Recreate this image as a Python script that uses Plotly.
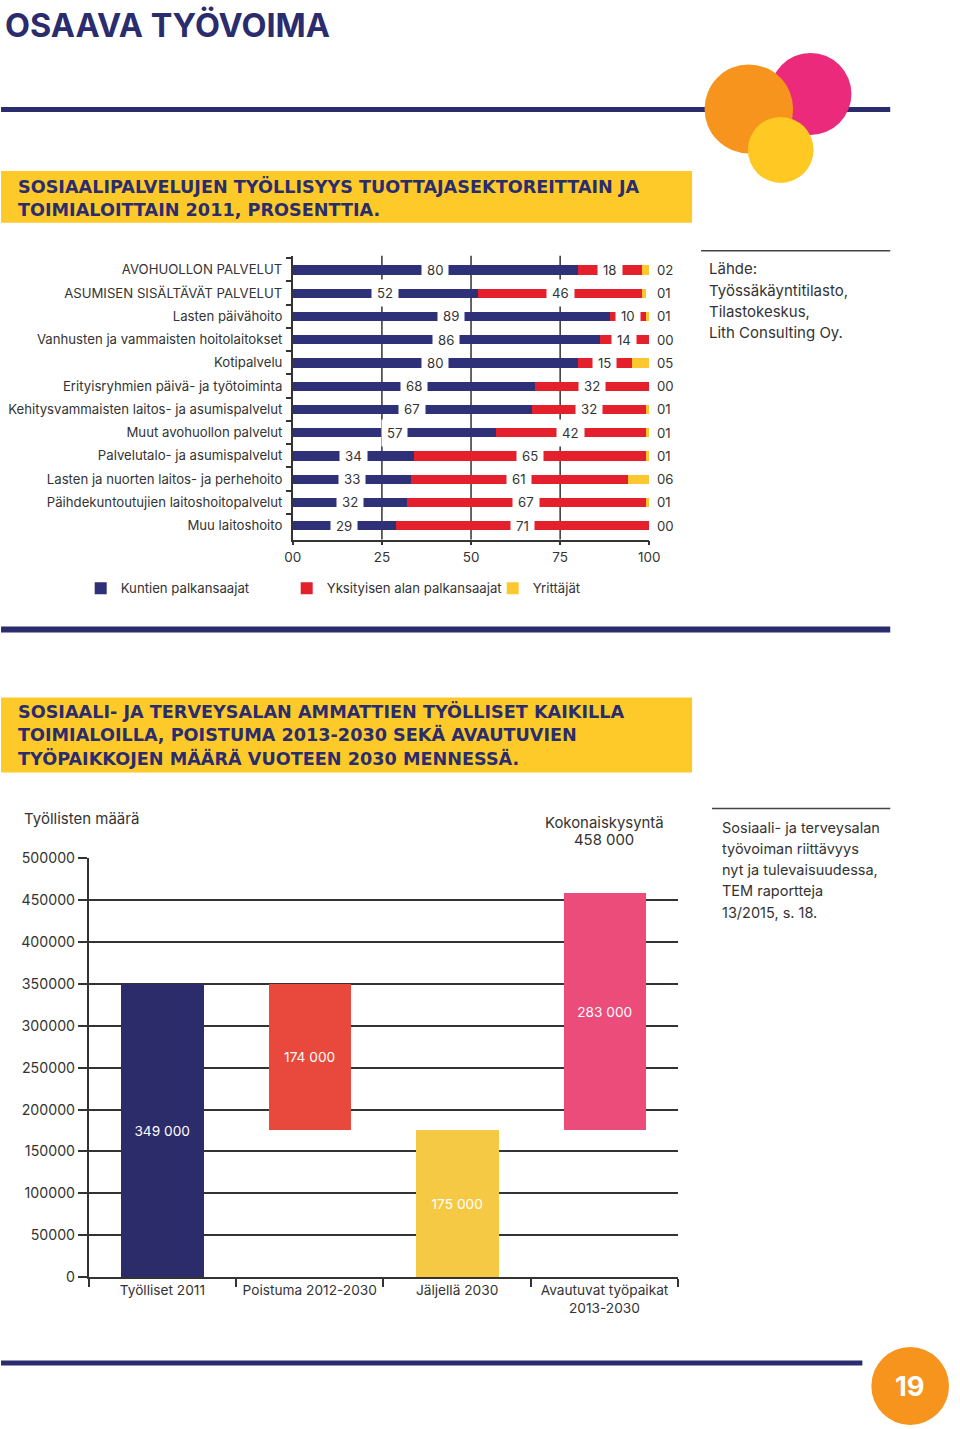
import plotly.graph_objects as go

W, H = 960, 1429
# the photographed page shows the figure inside an 8 px frame (scaled 944/960, 1413/1429);
# positions below are written in photo pixels and mapped back to paper fractions
def X(px): return (px - 8) / 944
def Y(py): return 1 - (py - 8) / 1413
def F(size): return size / 0.986

FONT = "Inter"
BANDFONT = "DejaVu Sans"
TXT = "#333333"
NAVY_TEXT = "#2B2C6E"
NAVY_BAR = "#2E3078"
RED_TOP = "#E4202C"
YELLOW_TOP = "#FDC72F"
NAVY_BOT = "#2C2C6A"
RED_BOT = "#E8493C"
YELLOW_BOT = "#F6C944"
PINK_BOT = "#EC4C7A"
BAND = "#FDCA2A"
ORANGE = "#F7941E"
PINK_C = "#EC2A7B"
YELLOW_C = "#FFC822"

# ---------------- data: top chart (%) ----------------
categories = [
    "AVOHUOLLON PALVELUT",
    "ASUMISEN SISÄLTÄVÄT PALVELUT",
    "Lasten päivähoito",
    "Vanhusten ja vammaisten hoitolaitokset",
    "Kotipalvelu",
    "Erityisryhmien päivä- ja työtoiminta",
    "Kehitysvammaisten laitos- ja asumispalvelut",
    "Muut avohuollon palvelut",
    "Palvelutalo- ja asumispalvelut",
    "Lasten ja nuorten laitos- ja perhehoito",
    "Päihdekuntoutujien laitoshoitopalvelut",
    "Muu laitoshoito",
]
kunnat = [80, 52, 89, 86, 80, 68, 67, 57, 34, 33, 32, 29]
yksityiset = [18, 46, 10, 14, 15, 32, 32, 42, 65, 61, 67, 71]
yrittajat = [2, 1, 1, 0, 5, 0, 1, 1, 1, 6, 1, 0]
series_names = ["Kuntien palkansaajat", "Yksityisen alan palkansaajat", "Yrittäjät"]
x_tickvals = [0, 25, 50, 75, 100]
x_ticktext = ["00", "25", "50", "75", "100"]
grid_x = [25, 50, 75]

# ---------------- data: bottom chart ----------------
kategoriat2 = ["Työlliset 2011", "Poistuma 2012-2030", "Jäljellä 2030", "Avautuvat työpaikat<br>2013-2030"]
tyolliset_2011 = 349000
poistuma = 174000
jaljella = 175000
avautuvat = 283000
kokonaiskysynta = 458000
y2_ticks = list(range(0, 500001, 50000))

fig = go.Figure()

# top chart traces
base_red = kunnat
base_yel = [a + b for a, b in zip(kunnat, yksityiset)]
fig.add_trace(go.Bar(y=categories, x=kunnat, base=[0] * len(kunnat), orientation="h",
                     marker=dict(color=NAVY_BAR, line=dict(width=0)), width=0.4,
                     name=series_names[0], xaxis="x", yaxis="y", hoverinfo="skip"))
fig.add_trace(go.Bar(y=categories, x=yksityiset, base=base_red, orientation="h",
                     marker=dict(color=RED_TOP, line=dict(width=0)), width=0.4,
                     name=series_names[1], xaxis="x", yaxis="y", hoverinfo="skip"))
fig.add_trace(go.Bar(y=categories, x=yrittajat, base=base_yel, orientation="h",
                     marker=dict(color=YELLOW_TOP, line=dict(width=0)), width=0.4,
                     name=series_names[2], xaxis="x", yaxis="y", hoverinfo="skip"))

# bottom chart
values2 = [tyolliset_2011, poistuma, jaljella, avautuvat]
bases2 = [0, jaljella, 0, jaljella]
colors2 = [NAVY_BOT, RED_BOT, YELLOW_BOT, PINK_BOT]
labels2 = [f"{v:,}".replace(",", " ") for v in values2]
fig.add_trace(go.Bar(x=kategoriat2, y=values2, base=bases2, width=0.56,
                     marker=dict(color=colors2, line=dict(width=0)),
                     text=labels2, textposition="inside", insidetextanchor="middle",
                     textangle=0, textfont=dict(family=FONT, size=F(13.5), color="white"),
                     xaxis="x2", yaxis="y2", showlegend=False, hoverinfo="skip"))

annotations = []
# segment labels top chart
for c, k, r, yv in zip(categories, kunnat, yksityiset, yrittajat):
    for xv, val in [(k / 2, k), (k + r / 2, r)]:
        annotations.append(dict(x=xv, y=c, xref="x", yref="y", text=str(val), showarrow=False,
                                bgcolor="white", borderpad=5,
                                font=dict(family=FONT, size=F(13), color=TXT)))
    annotations.append(dict(x=100, y=c, xref="x", yref="y", text=f"{yv:02d}", showarrow=False,
                            xanchor="left", xshift=6, font=dict(family=FONT, size=F(13), color=TXT)))

def txt(px, py, s, size=14, color=TXT, anchor="left", bold=False, family=FONT):
    annotations.append(dict(x=X(px), y=Y(py), xref="paper", yref="paper",
                            text=f"<b>{s}</b>" if bold else s, showarrow=False,
                            xanchor=anchor, yanchor="middle",
                            font=dict(family=family, size=F(size), color=color)))

txt(2, 25, "OSAAVA TYÖVOIMA", size=32, color=NAVY_TEXT, bold=True)
band1 = ["SOSIAALIPALVELUJEN TYÖLLISYYS TUOTTAJASEKTOREITTAIN JA", "TOIMIALOITTAIN 2011, PROSENTTIA."]
for i, s in enumerate(band1):
    txt(15, 186 + i * 23, s, size=17.4, color=NAVY_TEXT, bold=True, family=BANDFONT)
band2 = ["SOSIAALI- JA TERVEYSALAN AMMATTIEN TYÖLLISET KAIKILLA",
         "TOIMIALOILLA, POISTUMA 2013-2030 SEKÄ AVAUTUVIEN",
         "TYÖPAIKKOJEN MÄÄRÄ VUOTEEN 2030 MENNESSÄ."]
for i, s in enumerate(band2):
    txt(15, 711 + i * 23.5, s, size=17.4, color=NAVY_TEXT, bold=True, family=BANDFONT)
src1 = ["Lähde:", "Työssäkäyntitilasto,", "Tilastokeskus,", "Lith Consulting Oy."]
for i, s in enumerate(src1):
    txt(709, 268 + i * 21.3, s, size=14.8)
src2 = ["Sosiaali- ja terveysalan", "työvoiman riittävyys", "nyt ja tulevaisuudessa,", "TEM raportteja", "13/2015, s. 18."]
for i, s in enumerate(src2):
    txt(722, 827 + i * 21.2, s, size=14.3)
txt(21, 818, "Työllisten määrä", size=14.8)
for i, s in enumerate(["Kokonaiskysyntä", f"{kokonaiskysynta:,}".replace(",", " ")]):
    annotations.append(dict(x=kategoriat2[3], y=Y(823 + i * 17), xref="x2", yref="paper", text=s,
                            showarrow=False, xanchor="center", yanchor="middle",
                            font=dict(family=FONT, size=F(14.7), color=TXT)))
annotations.append(dict(x=X(913), y=Y(1386), xref="paper", yref="paper", text="<b>19</b>",
                        showarrow=False, xanchor="center", yanchor="middle",
                        font=dict(family=FONT, size=F(27), color="white")))

shapes = []
def rect(x0, y0, x1, y1, color, layer="below"):
    shapes.append(dict(type="rect", xref="paper", yref="paper", x0=X(x0), x1=X(x1), y0=Y(y1), y1=Y(y0),
                       fillcolor=color, line=dict(width=0), layer=layer))
def circle(cx, cy, r, color):
    shapes.append(dict(type="circle", xref="paper", yref="paper", x0=X(cx - r), x1=X(cx + r),
                       y0=Y(cy + r), y1=Y(cy - r), fillcolor=color, line=dict(width=0), layer="above"))
def hline(x0, x1, py, color, width):
    shapes.append(dict(type="line", xref="paper", yref="paper", x0=X(x0), x1=X(x1), y0=Y(py), y1=Y(py),
                       line=dict(color=color, width=width), layer="above"))

hline(0, 893, 108.5, NAVY_TEXT, 5)
circle(813, 93, 41, PINK_C)
circle(751, 108, 44.5, ORANGE)
circle(783, 149, 33, YELLOW_C)
rect(0, 170, 694, 222, BAND)
hline(703, 893, 250, "#444444", 1.5)
hline(0, 893, 629, NAVY_TEXT, 6)
rect(0, 697, 694, 772, BAND)
hline(714, 893, 808, "#444444", 1.5)
hline(0, 865, 1363, NAVY_TEXT, 5)
circle(913, 1386, 39, ORANGE)
for gx in grid_x:
    shapes.append(dict(type="line", xref="x", yref="y domain", x0=gx, x1=gx, y0=0, y1=1,
                       line=dict(color="#333333", width=1.5), layer="below"))

fig.update_layout(
    width=W, height=H, margin=dict(l=0, r=0, t=0, b=0),
    paper_bgcolor="white", plot_bgcolor="white",
    barmode="overlay", bargap=0,
    font=dict(family=FONT, size=F(13), color=TXT),
    xaxis=dict(domain=[X(293), X(651)], range=[0, 100], anchor="y",
               tickvals=x_tickvals, ticktext=x_ticktext, showgrid=False, zeroline=False,
               showline=True, linecolor="#333333", linewidth=1.5, ticks="outside", ticklen=4,
               tickcolor="#333333", tickwidth=1.5, tickfont=dict(size=F(13.3), color=TXT), fixedrange=True),
    yaxis=dict(domain=[Y(539), Y(255)], type="category", autorange="reversed", anchor="x",
               showline=True, linecolor="#333333", linewidth=1.5, ticks="outside", ticklen=5,
               tickcolor="#333333", tickwidth=1.5, tickson="boundaries", showgrid=False,
               ticklabelstandoff=6,
               tickfont=dict(size=F(13), color=TXT), fixedrange=True),
    xaxis2=dict(domain=[X(88), X(680)], type="category", anchor="y2", showgrid=False,
                showline=True, linecolor="#333333", linewidth=1.5, ticks="outside", ticklen=8,
                tickcolor="#333333", tickwidth=1.5, tickson="boundaries",
                tickfont=dict(size=F(13.5), color=TXT), fixedrange=True),
    yaxis2=dict(domain=[Y(1277), Y(858)], range=[0, 500000], anchor="x2",
                tickvals=y2_ticks, tickformat="d", showgrid=True, gridcolor="#333333", gridwidth=1.5,
                zeroline=False, showline=True, linecolor="#333333", linewidth=1.5,
                ticks="outside", ticklen=9, tickcolor="#333333", tickwidth=1.5,
                tickfont=dict(size=F(14), color=TXT), fixedrange=True),
    legend=dict(orientation="h", x=X(80), y=Y(588), xanchor="left", yanchor="middle",
                font=dict(size=F(13), color=TXT), entrywidth=161, entrywidthmode="pixels",
                itemclick=False, itemdoubleclick=False, bgcolor="rgba(0,0,0,0)"),
    annotations=annotations, shapes=shapes,
)

reset = ("document.documentElement.style.margin='0';document.documentElement.style.padding='0';"
         "document.body.style.margin='0';document.body.style.padding='0';")
fig.write_html("out.html", config={"displayModeBar": False}, post_script=reset)
